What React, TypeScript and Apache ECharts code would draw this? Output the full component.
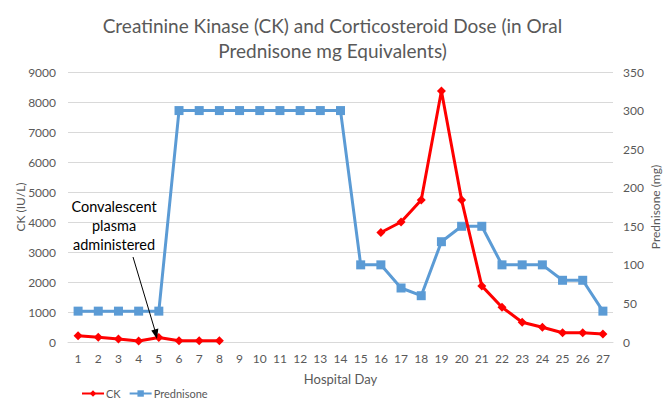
import React, { useEffect, useRef } from "react";
import * as echarts from "echarts";

const days = Array.from({ length: 27 }, (_, i) => String(i + 1));
const ckValues: (number | null)[] = [
  210, 160, 100, 30, 150, 40, 40, 40,
  null, null, null, null, null, null, null,
  3650, 4000, 4730, 8370, 4730, 1870, 1160, 660, 490, 310, 310, 270,
];
const prednisoneValues: number[] = [
  40, 40, 40, 40, 40, 300, 300, 300, 300, 300, 300, 300, 300, 300,
  100, 100, 70, 60, 130, 150, 150, 100, 100, 100, 80, 80, 40,
];
const titleLines = ["Creatinine Kinase (CK) and Corticosteroid Dose (in Oral", "Prednisone mg Equivalents)"];
const annotation = "Convalescent\nplasma\nadministered";

export default function App() {
  const ref = useRef<HTMLDivElement>(null);
  useEffect(() => {
    if (!ref.current) return;
    const chart = echarts.init(ref.current, undefined, { renderer: "svg" });
    const font = "Lato, 'Open Sans', sans-serif";
    const gray = "#595959";
    chart.setOption({
      animation: false,
      backgroundColor: "#ffffff",
      textStyle: { fontFamily: font },
      title: {
        text: titleLines.join("\n"),
        left: "center",
        top: 8,
        textStyle: { fontFamily: font, fontSize: 19, fontWeight: "normal", color: gray, lineHeight: 25 },
      },
      grid: { left: 68, right: 52, top: 72, bottom: 60, containLabel: false, outerBoundsMode: "none" },
      legend: {
        left: 76,
        top: 383,
        itemWidth: 22,
        itemHeight: 8,
        itemGap: 8,
        textStyle: { fontSize: 11, color: gray, fontFamily: font, padding: [0, 0, 0, -3] },
        data: ["CK", "Prednisone"],
      },
      xAxis: {
        type: "category",
        data: days,
        name: "Hospital Day",
        nameLocation: "middle",
        nameGap: 30,
        nameMoveOverlap: false,
        nameTextStyle: { fontSize: 13, color: gray },
        axisLine: { lineStyle: { color: "#d9d9d9" } },
        axisTick: { show: false },
        axisLabel: { color: gray, fontSize: 12, margin: 10 },
      },
      yAxis: [
        {
          type: "value",
          min: 0,
          max: 9000,
          interval: 1000,
          name: "CK (IU/L)",
          nameLocation: "middle",
          nameGap: 42,
          nameMoveOverlap: false,
          nameTextStyle: { fontSize: 12, color: gray },
          axisLine: { show: false },
          axisTick: { show: false },
          axisLabel: { color: gray, fontSize: 12, margin: 12, formatter: (v: number) => String(v) },
          splitLine: { lineStyle: { color: "#d9d9d9" } },
        },
        {
          type: "value",
          min: 0,
          max: 350,
          interval: 50,
          name: "Prednisone (mg)",
          nameLocation: "middle",
          nameGap: 36,
          nameMoveOverlap: false,
          nameTextStyle: { fontSize: 12, color: gray },
          axisLine: { show: false },
          axisTick: { show: false },
          axisLabel: { color: gray, fontSize: 12, margin: 10 },
          splitLine: { show: false },
        },
      ],
      series: [
        {
          name: "CK",
          type: "line",
          yAxisIndex: 0,
          data: ckValues,
          connectNulls: false,
          symbol: "diamond",
          symbolSize: 9,
          lineStyle: { color: "#ff0000", width: 3 },
          itemStyle: { color: "#ff0000" },
          z: 3,
        },
        {
          name: "Prednisone",
          type: "line",
          yAxisIndex: 1,
          data: prednisoneValues,
          symbol: "rect",
          symbolSize: 9,
          lineStyle: { color: "#5b9bd5", width: 3 },
          itemStyle: { color: "#5b9bd5" },
          z: 2,
        },
      ],
      graphic: [
        {
          type: "text",
          x: 114,
          y: 197,
          z: 10,
          style: {
            text: annotation,
            fontSize: 14.5,
            fontFamily: font,
            fill: "#000000",
            align: "center",
            verticalAlign: "top",
            lineHeight: 19,
          },
        },
        {
          type: "line",
          z: 10,
          shape: { x1: 133, y1: 257, x2: 156, y2: 334 },
          style: { stroke: "#000000", lineWidth: 1 },
        },
        {
          type: "polygon",
          z: 10,
          shape: { points: [[157, 339], [151.3, 330.5], [158.3, 328.5]] },
          style: { fill: "#000000" },
        },
      ],
    });
    return () => chart.dispose();
  }, []);
  return <div ref={ref} style={{ width: 665, height: 402, position: "absolute", left: 0, top: 0 }} />;
}
